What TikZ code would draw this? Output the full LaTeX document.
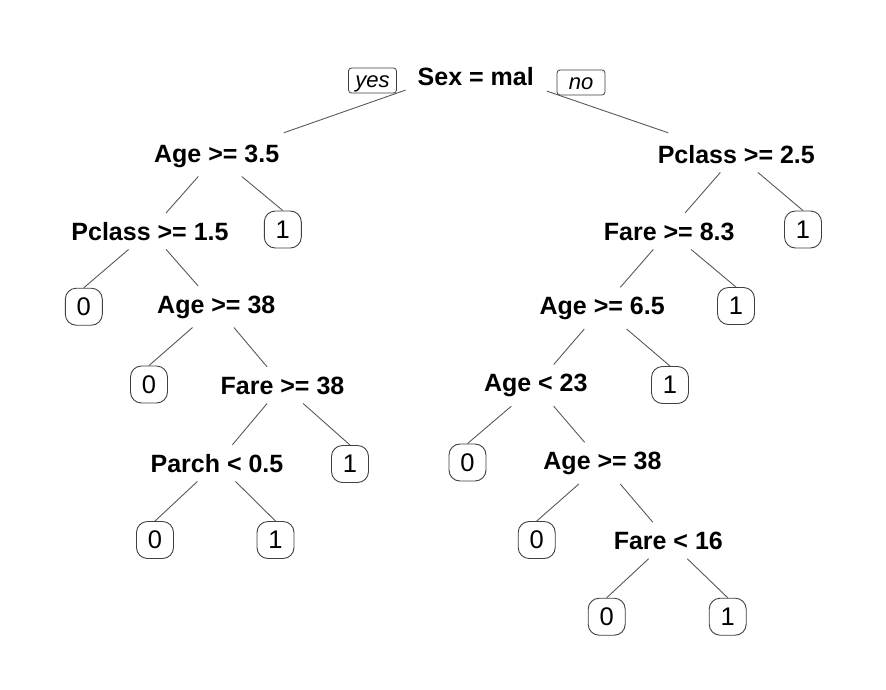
\documentclass[tikz,border=0pt]{standalone}
\usepackage{fontspec}
\setmainfont{Liberation Sans}
\usetikzlibrary{calc}
\begin{document}
\begin{tikzpicture}[x=1pt,y=-1pt,
  split/.style={anchor=base, font=\bfseries\fontsize{25}{30}\selectfont, inner xsep=2pt, inner ysep=9pt, text height=18pt},
  leaf/.style={draw=black!75, line width=0.9pt, rounded corners=11pt, minimum width=37pt, minimum height=37pt, inner sep=0pt, font=\fontsize{25.5}{30}\selectfont, fill=white},
  lbl/.style={draw=black!75, line width=0.8pt, rounded corners=3pt, fill=white, minimum width=48pt, minimum height=25pt, inner sep=0pt, text height=16.5pt, text depth=3pt, font=\itshape\fontsize{22}{26}\selectfont},
  br/.style={draw=black!65, line width=0.9pt}]
\useasboundingbox[fill=white] (0,0) rectangle (886,689);

% split nodes (positioned at baseline)
\node[split] (root)   at (475.7,85)  {Sex = mal};
\node[split] (age35)  at (216.7,162) {Age >= 3.5};
\node[split] (pc15)   at (150,240)   {Pclass >= 1.5};
\node[split] (age38L) at (216.3,313) {Age >= 38};
\node[split] (fare38) at (282.5,394) {Fare >= 38};
\node[split] (parch)  at (217,472)   {Parch < 0.5};
\node[split] (pc25)   at (736.3,163) {Pclass >= 2.5};
\node[split] (fare83) at (669.2,240) {Fare >= 8.3};
\node[split] (age65)  at (602.2,314.5) {Age >= 6.5};
\node[split] (age23)  at (535.8,391.7) {Age < 23};
\node[split] (age38R) at (602.5,469.5) {Age >= 38};
\node[split] (fare16) at (668.3,549.3) {Fare < 16};

% leaves
\node[leaf] (L1) at (282.8,229.5) {1};
\node[leaf] (L2) at (83.8,306.7)  {0};
\node[leaf] (L3) at (149,384.5)   {0};
\node[leaf] (L4) at (350,464)     {1};
\node[leaf] (L5) at (155,540)     {0};
\node[leaf] (L6) at (275.5,540)   {1};
\node[leaf] (R1) at (803,229.5)   {1};
\node[leaf] (R2) at (736,306)     {1};
\node[leaf] (R3) at (670,385)     {1};
\node[leaf] (R4) at (467.5,462.5) {0};
\node[leaf] (R5) at (536.7,540)   {0};
\node[leaf] (R6) at (606.7,616.7) {0};
\node[leaf] (R7) at (727.7,616.7) {1};

% branches
\draw[br] ($(root.west)+(-10,14)$) -- ($(age35.north)+(67,-2)$);
\draw[br] ($(root.east)+(11,15)$) -- ($(pc25.north)+(-68,-3)$);
\draw[br] (age35) -- (pc15);
\draw[br] (age35) -- (L1.north);
\draw[br] (pc15) -- (L2.north);
\draw[br] (pc15) -- (age38L);
\draw[br] (age38L) -- (L3.north);
\draw[br] (age38L) -- (fare38);
\draw[br] (fare38) -- (parch);
\draw[br] (fare38) -- (L4.north);
\draw[br] (parch) -- (L5.north);
\draw[br] (parch) -- (L6.north);
\draw[br] (pc25) -- (fare83);
\draw[br] (pc25) -- (R1.north);
\draw[br] (fare83) -- (age65);
\draw[br] (fare83) -- (R2.north);
\draw[br] (age65) -- (age23);
\draw[br] (age65) -- (R3.north);
\draw[br] (age23) -- (R4.north);
\draw[br] (age23) -- (age38R);
\draw[br] (age38R) -- (R5.north);
\draw[br] (age38R) -- (fare16);
\draw[br] (fare16) -- (R6.north);
\draw[br] (fare16) -- (R7.north);

% yes / no labels
\node[lbl] (yes) at (372.5,80.5) {yes};
\node[lbl] (no)  at (581,82.5)   {no};
\end{tikzpicture}
\end{document}
